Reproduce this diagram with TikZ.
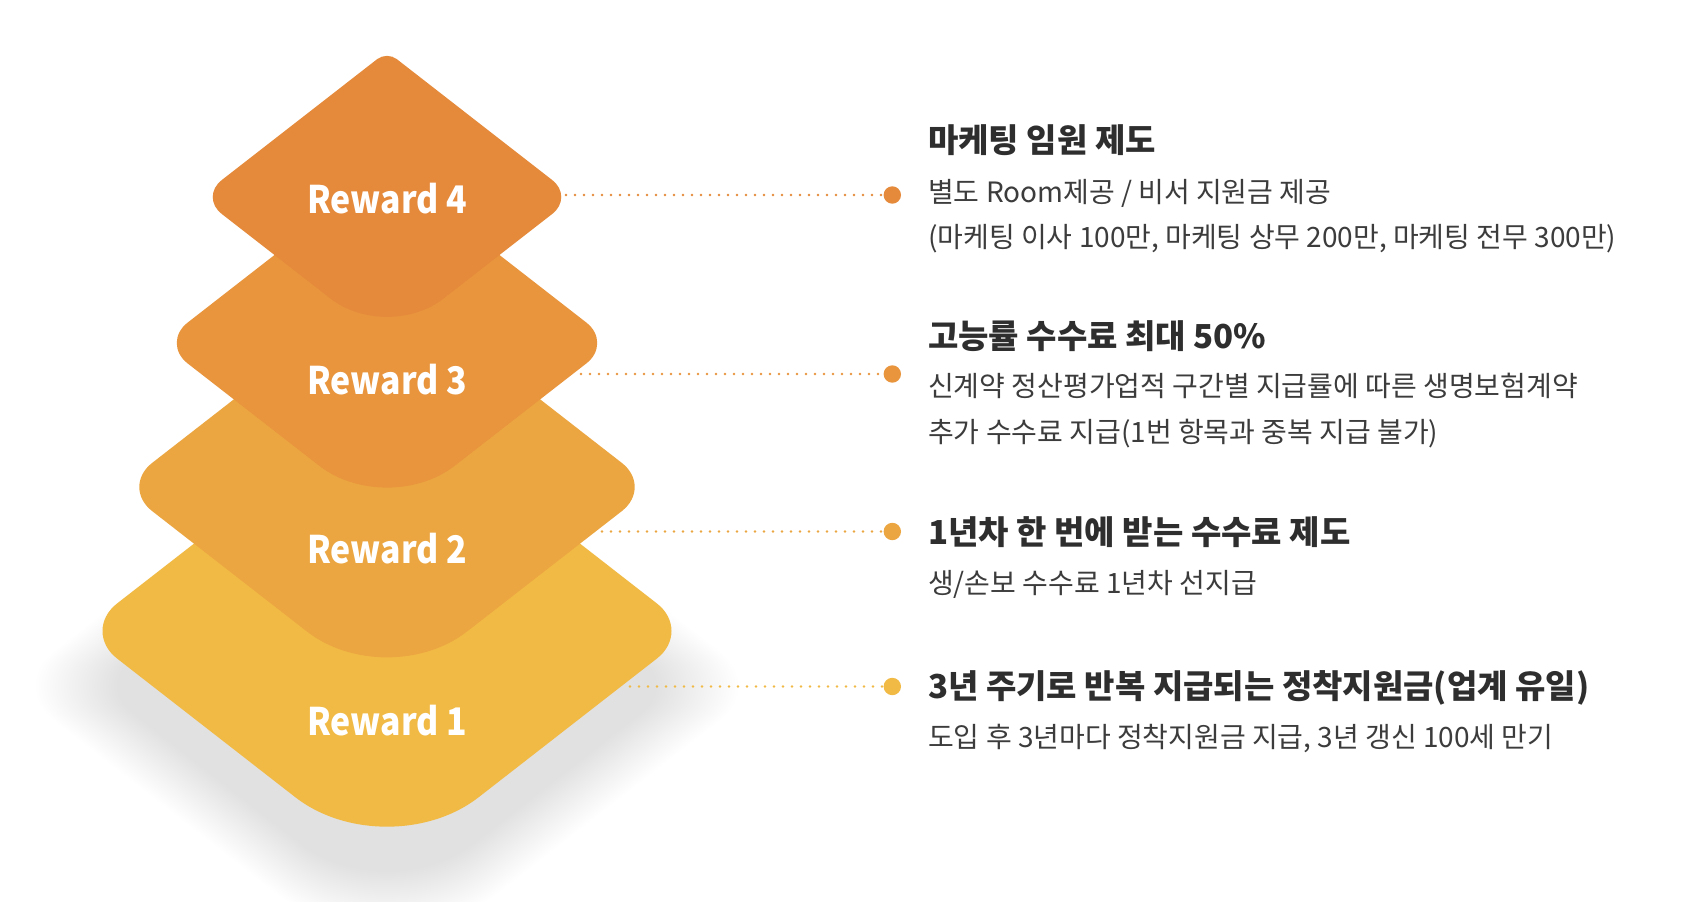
\documentclass[tikz,border=0pt]{standalone}
\usepackage{fontspec}
\usetikzlibrary{calc}
\newfontfamily\kr{Noto Sans CJK KR}
\newfontfamily\lab{Noto Sans CJK KR}[FakeStretch=0.89]
\definecolor{cfour}{HTML}{E5893B}
\definecolor{cthree}{HTML}{E8953D}
\definecolor{ctwo}{HTML}{ECA641}
\definecolor{cone}{HTML}{F1BA45}
\definecolor{ttl}{HTML}{2E2E2E}
\definecolor{bdy}{HTML}{3C3C3C}
\newcommand\rshape[4]{%
  \pgfmathsetmacro\rH{0.778*#3}%
  \coordinate (T) at (#1,#2-\rH);
  \coordinate (R) at (#1+#3,#2);
  \coordinate (B) at (#1,#2+\rH);
  \coordinate (L) at (#1-#3,#2);
  \coordinate (Ta) at ($(T)!0.0513!(L)$);
  \coordinate (Tb) at ($(T)!0.0513!(R)$);
  \coordinate (Ra) at ($(R)!0.116!(T)$);
  \coordinate (Rb) at ($(R)!0.116!(B)$);
  \coordinate (Ba) at ($(B)!0.30!(R)$);
  \coordinate (Bb) at ($(B)!0.30!(L)$);
  \coordinate (La) at ($(L)!0.116!(B)$);
  \coordinate (Lb) at ($(L)!0.116!(T)$);
  \fill[#4] (Ta) .. controls ($(Ta)!0.55!(T)$) and ($(Tb)!0.55!(T)$) .. (Tb)
    -- (Ra) .. controls ($(Ra)!0.55!(R)$) and ($(Rb)!0.55!(R)$) .. (Rb)
    -- (Ba) .. controls ($(Ba)!0.55!(B)$) and ($(Bb)!0.55!(B)$) .. (Bb)
    -- (La) .. controls ($(La)!0.55!(L)$) and ($(Lb)!0.55!(L)$) .. (Lb)
    -- cycle;
}
\tikzset{
  rlabel/.style={text=white, inner sep=0pt, anchor=base, font=\lab\bfseries\fontsize{38}{38}\selectfont},
  ttlstyle/.style={text=ttl, inner sep=0pt, anchor=base west, font=\kr\bfseries\fontsize{33}{33}\selectfont},
  bdystyle/.style={text=bdy, inner sep=0pt, anchor=base west, font=\kr\fontsize{28}{28}\selectfont},
  dotline/.style={line width=2.6pt, dash pattern=on 0pt off 9pt, line cap=round},
  bullet/.style={circle, inner sep=0pt, minimum size=17.4pt},
}
\begin{document}
\begin{tikzpicture}[x=1pt,y=-1pt]
\useasboundingbox (0,0) rectangle (1700,902);
\fill[white] (0,0) rectangle (1700,902);
% shadow
\foreach \i in {0,...,29}{
  \pgfmathsetmacro\sw{290+\i*3}
  \rshape{387}{686}{\sw}{black, opacity=0.0036}
}
% layers
\rshape{387}{631}{305.3}{cone}
\rshape{387}{487}{265.8}{ctwo}
\rshape{387}{343}{225.6}{cthree}
\rshape{387}{197}{187}{cfour}
% labels
\node[rlabel] (r4) at (387,213.5) {Reward 4};
\node[rlabel] (r3) at (387,394.7) {Reward 3};
\node[rlabel] (r2) at (387,563.8) {Reward 2};
\node[rlabel] (r1) at (387,735) {Reward 1};
% bullets and connectors
\node[bullet, fill=cfour] (d4) at (892.3,195) {};
\node[bullet, fill=cthree] (d3) at (892.3,374) {};
\node[bullet, fill=ctwo] (d2) at (892.3,531.5) {};
\node[bullet, fill=cone] (d1) at (892.3,686.5) {};
\coordinate (s4) at (566,195);
\coordinate (s3) at (581,374);
\coordinate (s2) at (602,531.5);
\coordinate (s1) at (630,686.5);
\draw[dotline, cfour] (s4) -- (d4);
\draw[dotline, cthree] (s3) -- (d3);
\draw[dotline, ctwo] (s2) -- (d2);
\draw[dotline, cone] (s1) -- (d1);
% texts
\node[ttlstyle] (t4) at (928,152) {마케팅 임원 제도};
\node[bdystyle] (b4a) at (928,202.5) {별도 Room제공 / 비서 지원금 제공};
\node[bdystyle] (b4b) at (928,247) {(마케팅 이사 100만, 마케팅 상무 200만, 마케팅 전무 300만)};
\node[ttlstyle] (t3) at (928,348) {고능률 수수료 최대 50\%};
\node[bdystyle] (b3a) at (928,396.6) {신계약 정산평가업적 구간별 지급률에 따른 생명보험계약};
\node[bdystyle] (b3b) at (928,442.1) {추가 수수료 지급(1번 항목과 중복 지급 불가)};
\node[ttlstyle] (t2) at (928,544) {1년차 한 번에 받는 수수료 제도};
\node[bdystyle] (b2a) at (928,593.6) {생/손보 수수료 1년차 선지급};
\node[ttlstyle] (t1) at (928,698) {3년 주기로 반복 지급되는 정착지원금(업계 유일)};
\node[bdystyle] (b1a) at (928,747.6) {도입 후 3년마다 정착지원금 지급, 3년 갱신 100세 만기};
\end{tikzpicture}
\end{document}
